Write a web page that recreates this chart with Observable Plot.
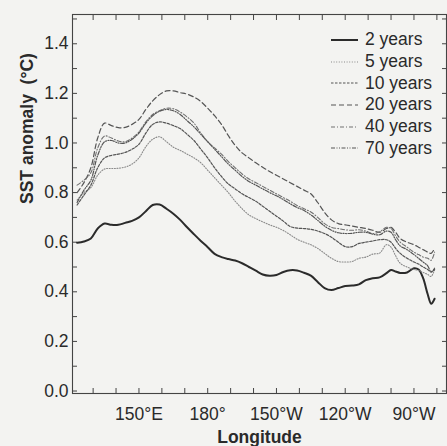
<!DOCTYPE html>
<html>
<head>
<meta charset="utf-8">
<script src="https://cdn.jsdelivr.net/npm/d3@7"></script>
<script src="https://cdn.jsdelivr.net/npm/@observablehq/plot@0.6"></script>
<style>
  html, body { margin: 0; padding: 0; background: #f3f3f1; }
  #wrap { position: relative; width: 447px; height: 446px; overflow: hidden; }
  #legend { position: absolute; left: 331px; top: 29px; font-family: "Liberation Sans", Arial, sans-serif; font-size: 17.5px; color: #2a2a2a; }
  #legend .row { display: flex; align-items: center; height: 21.7px; }
  #legend svg { margin-right: 7px; }
</style>
</head>
<body>
<div id="wrap"><div id="legend"></div></div>
<script>
// Longitude in degrees east (0-360): 150°E = 150, 180° = 180, 150°W = 210, ...
const lon = [123,126,129,132,135,138,141,144,147,150,153,156,159,162,165,168,171,174,177,180,183,186,189,192,195,198,201,204,207,210,213,216,219,222,225,228,231,234,237,240,243,246,249,252,255,258,260,262,264,267,270,272,274,276,277.5,279];

const y2  = [0.598,0.603,0.615,0.655,0.675,0.670,0.670,0.678,0.686,0.700,0.725,0.750,0.752,0.735,0.715,0.690,0.660,0.632,0.605,0.580,0.553,0.540,0.532,0.526,0.515,0.500,0.485,0.470,0.465,0.468,0.480,0.487,0.486,0.477,0.465,0.440,0.415,0.407,0.415,0.423,0.425,0.430,0.447,0.455,0.458,0.475,0.488,0.482,0.476,0.478,0.495,0.490,0.455,0.390,0.352,0.372];
const y5  = [0.770,0.800,0.820,0.870,0.895,0.897,0.898,0.903,0.915,0.940,0.985,1.015,1.025,1.005,0.983,0.970,0.955,0.940,0.920,0.890,0.860,0.830,0.800,0.765,0.735,0.710,0.695,0.682,0.670,0.660,0.647,0.630,0.612,0.600,0.590,0.575,0.555,0.535,0.522,0.520,0.522,0.535,0.540,0.552,0.556,0.590,0.580,0.545,0.515,0.500,0.490,0.486,0.478,0.470,0.462,0.490];
const y10 = [0.750,0.790,0.830,0.900,0.940,0.950,0.955,0.962,0.975,0.995,1.040,1.075,1.085,1.080,1.070,1.058,1.035,1.010,0.975,0.940,0.900,0.865,0.835,0.815,0.795,0.780,0.765,0.745,0.725,0.705,0.685,0.663,0.657,0.655,0.652,0.645,0.635,0.620,0.600,0.582,0.582,0.595,0.600,0.605,0.610,0.610,0.600,0.575,0.555,0.535,0.520,0.512,0.500,0.490,0.480,0.495];
const y20 = [0.800,0.840,0.900,1.020,1.080,1.070,1.062,1.063,1.075,1.095,1.135,1.170,1.195,1.210,1.210,1.203,1.197,1.185,1.167,1.140,1.110,1.075,1.030,0.990,0.960,0.940,0.920,0.902,0.885,0.870,0.855,0.840,0.825,0.810,0.795,0.760,0.720,0.690,0.675,0.670,0.665,0.660,0.655,0.648,0.640,0.655,0.660,0.640,0.615,0.600,0.590,0.580,0.570,0.560,0.555,0.575];
const y40 = [0.830,0.850,0.880,0.980,1.028,1.020,1.008,1.005,1.020,1.045,1.085,1.115,1.130,1.140,1.138,1.125,1.105,1.080,1.040,1.005,0.980,0.955,0.925,0.900,0.875,0.855,0.840,0.825,0.810,0.795,0.780,0.765,0.748,0.735,0.722,0.700,0.675,0.660,0.655,0.650,0.648,0.650,0.645,0.635,0.642,0.660,0.655,0.625,0.600,0.580,0.560,0.550,0.540,0.535,0.527,0.560];
const y70 = [0.760,0.810,0.850,0.950,1.005,1.010,1.000,1.000,1.015,1.040,1.080,1.110,1.128,1.135,1.130,1.115,1.090,1.065,1.035,1.005,0.975,0.945,0.915,0.890,0.865,0.845,0.830,0.815,0.800,0.787,0.772,0.755,0.740,0.728,0.710,0.688,0.665,0.648,0.638,0.635,0.636,0.640,0.640,0.632,0.630,0.645,0.640,0.610,0.585,0.570,0.550,0.535,0.520,0.505,0.480,0.490];

const seriesNames = ["2 years","5 years","10 years","20 years","40 years","70 years"];
const seriesValues = [y2, y5, y10, y20, y40, y70];

const xTicks = [130,140,150,160,170,180,190,200,210,220,230,240,250,260,270,280];
const xTickLabels = [150,180,210,240,270];
const yTicks = [0,0.1,0.2,0.3,0.4,0.5,0.6,0.7,0.8,0.9,1.0,1.1,1.2,1.3,1.4,1.5];
const yTickLabels = [0,0.2,0.4,0.6,0.8,1.0,1.2,1.4];

const styles = [
  {stroke: "#2b2b2b", strokeWidth: 2, dash: null},
  {stroke: "#8a8a8a", strokeWidth: 1.1, dash: "1,1.6"},
  {stroke: "#555",    strokeWidth: 1.2, dash: "2.5,1.5"},
  {stroke: "#555",    strokeWidth: 1.2, dash: "5,3"},
  {stroke: "#707070", strokeWidth: 1.1, dash: "4,2,1,2"},
  {stroke: "#555",    strokeWidth: 1.2, dash: "4,1.5,1,1.5,1,1.5"}
];

const rows = seriesNames.flatMap((s, i) => lon.map((x, j) => ({series: s, lon: x, val: seriesValues[i][j]})));

const fmtLon = d => d < 180 ? `${d}°E` : d === 180 ? "180°" : `${360 - d}°W`;
const font = "Liberation Sans, Arial, sans-serif";

const chart = Plot.plot({
  width: 447,
  height: 446,
  marginLeft: 72,
  marginRight: 1,
  marginTop: 14,
  marginBottom: 53,
  style: {fontFamily: font, fontSize: "17px", color: "#2a2a2a", background: "transparent"},
  x: {domain: [121, 284.2]},
  y: {domain: [-0.01, 1.518]},
  marks: [
    Plot.frame({stroke: "#444", strokeWidth: 1.1}),
    Plot.axisX({anchor: "bottom", ticks: xTicks, tickSize: -5, tickFormat: () => "", label: null, stroke: "#444"}),
    Plot.axisX({anchor: "top", ticks: xTicks, tickSize: -5, tickFormat: () => "", label: null, stroke: "#444"}),
    Plot.axisX({anchor: "bottom", ticks: xTickLabels, tickSize: 0, tickPadding: 14, tickFormat: fmtLon, label: null, fontSize: 17.5}),
    Plot.axisY({anchor: "left", ticks: yTicks, tickSize: -5, tickFormat: () => "", label: null, stroke: "#444"}),
    Plot.axisY({anchor: "right", ticks: yTicks, tickSize: -5, tickFormat: () => "", label: null, stroke: "#444"}),
    Plot.axisY({anchor: "left", ticks: yTickLabels, tickSize: 0, tickPadding: 4, tickFormat: d3.format(".1f"), label: null, fontSize: 17.5}),
    ...seriesNames.map((s, i) => Plot.line(rows.filter(r => r.series === s), {
      x: "lon", y: "val", curve: "catmull-rom",
      stroke: styles[i].stroke, strokeWidth: styles[i].strokeWidth,
      strokeDasharray: styles[i].dash
    })),
    Plot.text(["Longitude"], {frameAnchor: "bottom", dy: 49, fontWeight: "bold", fontSize: 17.5, fill: "#2a2a2a"}),
    Plot.text(["SST anomaly\u00a0 (°C)"], {frameAnchor: "left", dx: -45, rotate: -90, fontWeight: "bold", fontSize: 17.5, fill: "#2a2a2a"})
  ]
});
document.getElementById("wrap").prepend(chart);

// Legend
const legend = d3.select("#legend");
seriesNames.forEach((s, i) => {
  const row = legend.append("div").attr("class", "row");
  const svg = row.append("svg").attr("width", 27).attr("height", 8);
  svg.append("line").attr("x1", 0).attr("x2", 27).attr("y1", 4).attr("y2", 4)
    .attr("stroke", styles[i].stroke).attr("stroke-width", styles[i].strokeWidth)
    .attr("stroke-dasharray", styles[i].dash);
  row.append("span").text(s);
});
</script>
</body>
</html>
